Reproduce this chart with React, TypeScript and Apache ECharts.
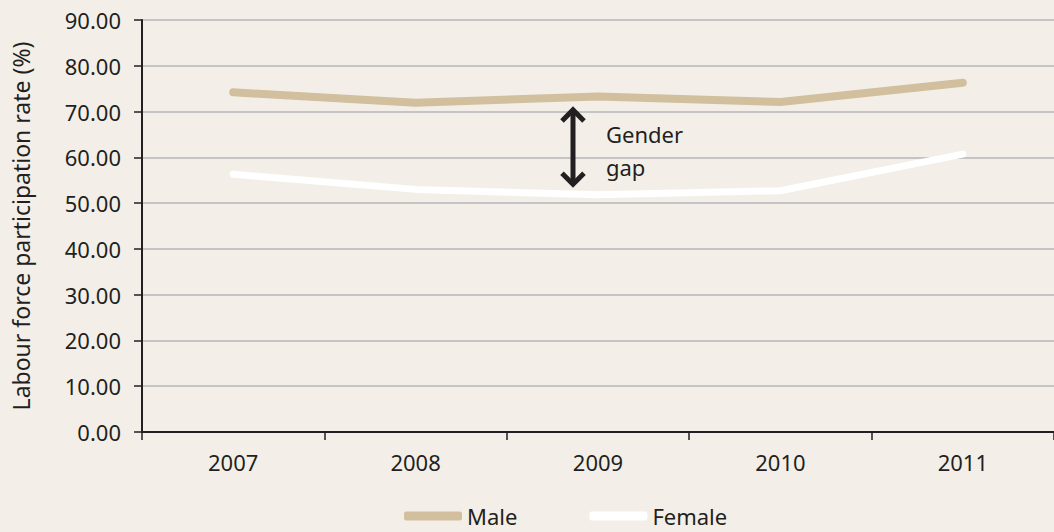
import React, { useEffect, useRef } from "react";
import * as echarts from "echarts";

const years = ["2007", "2008", "2009", "2010", "2011"];
const maleRates = [74.2, 71.9, 73.3, 72.1, 76.3];
const femaleRates = [56.3, 53.0, 51.8, 52.7, 60.7];
const yTicks = { min: 0, max: 90, interval: 10 };
const gapLabel = ["Gender", "gap"];

const FONT = "'Noto Sans', 'Open Sans', sans-serif";
const TEXT = "#231f20";

export default function App() {
  const ref = useRef<HTMLDivElement>(null);
  useEffect(() => {
    if (!ref.current) return;
    const chart = echarts.init(ref.current, null, { renderer: "svg" });
    chart.setOption({
      animation: false,
      backgroundColor: "#f3efe8",
      textStyle: { fontFamily: FONT },
      grid: { left: 142, top: 20, width: 915, height: 412, containLabel: false },
      xAxis: {
        type: "category",
        data: years,
        boundaryGap: true,
        axisLine: { lineStyle: { color: TEXT, width: 2 } },
        axisTick: { show: true, length: 8, lineStyle: { color: TEXT, width: 1.5 } },
        axisLabel: { color: TEXT, fontSize: 22, margin: 19, fontFamily: FONT },
        splitLine: { show: false },
      },
      yAxis: {
        type: "value",
        min: yTicks.min,
        max: yTicks.max,
        interval: yTicks.interval,
        name: "Labour force participation rate (%)",
        nameLocation: "middle",
        nameGap: 110,
        nameTextStyle: { color: TEXT, fontSize: 23, fontFamily: FONT },
        axisLine: { show: true, lineStyle: { color: TEXT, width: 2 } },
        axisTick: { show: true, length: 8, lineStyle: { color: TEXT, width: 1.5 } },
        axisLabel: {
          color: TEXT,
          fontSize: 22,
          margin: 21,
          fontFamily: FONT,
          formatter: (v: number) => v.toFixed(2),
        },
        splitLine: { show: true, lineStyle: { color: "#c4c4c4", width: 2 } },
      },
      legend: {
        left: 399,
        top: 500,
        itemWidth: 58,
        itemHeight: 9,
        itemGap: 72,
        icon: "roundRect",
        textStyle: { color: TEXT, fontSize: 22, fontFamily: FONT },
        data: ["Male", "Female"],
      },
      series: [
        {
          name: "Male",
          type: "line",
          data: maleRates,
          symbol: "none",
          color: "#d1bf9e",
          lineStyle: { color: "#d1bf9e", width: 8, cap: "round", join: "round" },
          itemStyle: { color: "#d1bf9e" },
        },
        {
          name: "Female",
          type: "line",
          data: femaleRates,
          symbol: "none",
          color: "#ffffff",
          lineStyle: { color: "#ffffff", width: 7, cap: "round", join: "round" },
          itemStyle: { color: "#ffffff" },
        },
      ],
    });

    const top = chart.convertToPixel({ gridIndex: 0 }, [years[2], 70.8]) as number[];
    const bot = chart.convertToPixel({ gridIndex: 0 }, [years[2], 53.7]) as number[];
    const x = top[0] - 25;
    const y1 = top[1];
    const y2 = bot[1];
    const hw = 11;
    const hh = 11;
    const stroke = { stroke: "#231f20", lineWidth: 5, fill: "none", lineJoin: "miter" };
    chart.setOption({
      graphic: [
        { type: "line", shape: { x1: x, y1: y1 + 2, x2: x, y2: y2 - 2 }, style: { stroke: "#231f20", lineWidth: 5 } },
        { type: "polyline", shape: { points: [[x - hw, y1 + hh + 2], [x, y1 + 2], [x + hw, y1 + hh + 2]] }, style: stroke },
        { type: "polyline", shape: { points: [[x - hw, y2 - hh - 2], [x, y2 - 2], [x + hw, y2 - hh - 2]] }, style: stroke },
        {
          type: "text",
          x: x + 33,
          y: y1 + 26,
          style: { text: gapLabel[0], fill: TEXT, fontSize: 22, fontFamily: FONT, verticalAlign: "middle" },
        },
        {
          type: "text",
          x: x + 33,
          y: y1 + 59,
          style: { text: gapLabel[1], fill: TEXT, fontSize: 22, fontFamily: FONT, verticalAlign: "middle" },
        },
      ],
    });

    return () => chart.dispose();
  }, []);
  return (
    <div
      ref={ref}
      style={{ position: "fixed", left: 0, top: 0, width: 1054, height: 532 }}
    />
  );
}
